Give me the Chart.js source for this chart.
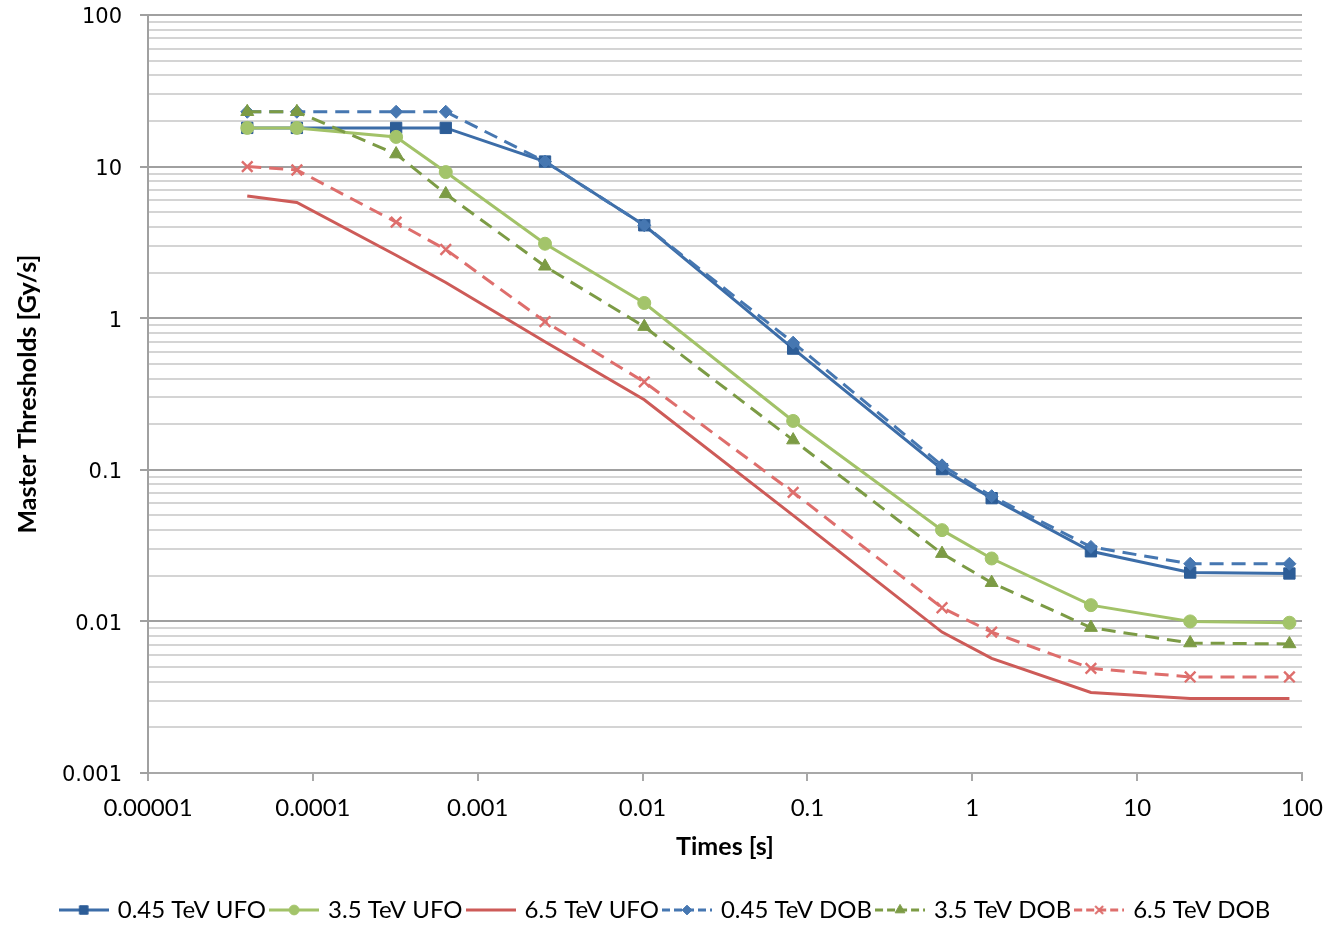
<!DOCTYPE html>
<html>
<head>
<meta charset="utf-8">
<script src="https://cdn.jsdelivr.net/npm/chart.js@4"></script>
<style>
  html, body { margin: 0; padding: 0; background: #ffffff; }
  #wrap { width: 1332px; height: 925px; }
</style>
</head>
<body>
<div id="wrap"><canvas id="thresholds" width="1332" height="925"></canvas></div>
<script>
// running sum integration times [s]
var times = [0.00004, 0.00008, 0.00032, 0.00064, 0.00256, 0.01024, 0.08192, 0.65536, 1.31072, 5.24288, 20.97152, 83.88608];

// master thresholds [Gy/s]
var ufo045 = [18, 18, 18, 18, 10.8, 4.1, 0.63, 0.101, 0.065, 0.029, 0.021, 0.0207];
var ufo35 = [18, 18, 15.7, 9.2, 3.1, 1.26, 0.21, 0.040, 0.026, 0.0128, 0.0100, 0.0098];
var ufo65 = [6.4, 5.8, 2.6, 1.72, 0.70, 0.29, 0.050, 0.0085, 0.0057, 0.0034, 0.0031, 0.0031];
var dob045 = [23, 23, 23, 23, 10.8, 4.1, 0.69, 0.107, 0.067, 0.031, 0.024, 0.024];
var dob35 = [23, 23, 12.1, 6.6, 2.2, 0.88, 0.157, 0.028, 0.018, 0.0091, 0.0072, 0.0071];
var dob65 = [10.0, 9.5, 4.3, 2.84, 0.95, 0.38, 0.071, 0.0123, 0.0085, 0.0049, 0.0043, 0.0043];

var seriesNames = ['0.45 TeV UFO', '3.5 TeV UFO', '6.5 TeV UFO', '0.45 TeV DOB', '3.5 TeV DOB', '6.5 TeV DOB'];

var xTickLabels = ['0.00001', '0.0001', '0.001', '0.01', '0.1', '1', '10', '100'];
var yTickLabels = ['0.001', '0.01', '0.1', '1', '10', '100'];

var xTicks = xTickLabels.map(Number);
var yTicks = yTickLabels.map(Number);

function points(ys) {
    return ys.map(function (y, i) { return { x: times[i], y: y }; });
}

var styles = [
    { line: '#3C6DA8', mark: '#2D5D97', pointStyle: 'rect', radius: 8, dash: [] },
    { line: '#A2C268', mark: '#A3C46A', pointStyle: 'circle', radius: 6.5, dash: [] },
    { line: '#CD5B58', mark: '#CD5B58', pointStyle: false, radius: 0, dash: [] },
    { line: '#4677B1', mark: '#4677B1', pointStyle: 'rectRot', radius: 6.5, dash: [14, 8] },
    { line: '#7C9B45', mark: '#7C9B45', pointStyle: 'triangle', radius: 7.5, dash: [14, 8] },
    { line: '#DE6E6C', mark: '#DE6E6C', pointStyle: 'crossRot', radius: 7.5, dash: [14, 8] }
];

var allSeries = [ufo045, ufo35, ufo65, dob045, dob35, dob65];

var datasets = allSeries.map(function (ys, i) {
    var s = styles[i];
    return {
        label: seriesNames[i],
        data: points(ys),
        borderColor: s.line,
        backgroundColor: s.mark,
        borderWidth: 3,
        borderDash: s.dash,
        tension: 0,
        pointStyle: s.pointStyle,
        pointRadius: s.radius,
        pointBackgroundColor: s.mark,
        pointBorderColor: s.mark,
        pointBorderWidth: s.pointStyle === 'crossRot' ? 2.4 : 1,
        order: 6 - i
    };
});

// little line + marker icon for each legend entry
function legendIcon(s) {
    var c = document.createElement('canvas');
    c.width = 50;
    c.height = 20;
    var g = c.getContext('2d');
    g.strokeStyle = s.line;
    g.lineWidth = 3;
    g.setLineDash(s.dash.length ? [8, 4] : []);
    g.beginPath();
    g.moveTo(0, 10);
    g.lineTo(50, 10);
    g.stroke();
    g.setLineDash([]);
    if (s.pointStyle) {
        g.fillStyle = s.mark;
        g.strokeStyle = s.mark;
        g.lineWidth = s.pointStyle === 'crossRot' ? 2 : 1;
        Chart.helpers.drawPoint(g, { pointStyle: s.pointStyle, radius: s.radius * 0.75, rotation: 0, borderWidth: g.lineWidth }, 25, 10);
    }
    return c;
}

function isDecade(v) {
    var l = Math.log10(v);
    return Math.abs(l - Math.round(l)) < 1e-6;
}

var config = {
    type: 'line',
    data: { datasets: datasets },
    options: {
        responsive: false,
        animation: false,
        layout: { padding: { left: 0, right: 0, top: 15, bottom: -7 } },
        plugins: {
            tooltip: { enabled: false },
            legend: {
                position: 'bottom',
                labels: {
                    usePointStyle: true,
                    pointStyleWidth: 44,
                    padding: 6,
                    color: '#000000',
                    font: { family: 'Lato', size: 24 },
                    generateLabels: function (chart) {
                        return chart.data.datasets.map(function (ds, i) {
                            return {
                                text: ds.label,
                                pointStyle: legendIcon(styles[i]),
                                fillStyle: styles[i].mark,
                                strokeStyle: styles[i].line,
                                lineWidth: 0,
                                hidden: false,
                                datasetIndex: i,
                                fontColor: '#000000'
                            };
                        });
                    }
                }
            }
        },
        scales: {
            x: {
                type: 'logarithmic',
                min: 0.00001,
                max: 100,
                afterFit: function (scale) {
                    // keep the plot clear of the right edge, legend stays centred on the page
                    scale.height = 119;
                    scale.paddingLeft = 0;
                    scale.paddingRight = 30;
                },
                afterBuildTicks: function (scale) {
                    scale.ticks = xTicks.map(function (v) { return { value: v, major: true }; });
                },
                grid: {
                    drawOnChartArea: false,
                    drawTicks: true,
                    tickLength: 8,
                    color: '#a8a8a8',
                    lineWidth: 2
                },
                border: { display: true, color: '#a8a8a8', width: 2 },
                ticks: {
                    autoSkip: false,
                    maxRotation: 0,
                    padding: 13,
                    color: '#000000',
                    font: { family: 'Lato', size: 24 },
                    callback: function (value, index) { return xTickLabels[index]; }
                },
                title: {
                    display: true,
                    text: 'Times [s]',
                    color: '#000000',
                    font: { family: 'Lato', size: 25, weight: 'bold' },
                    padding: { top: 4, bottom: 30 }
                }
            },
            y: {
                type: 'logarithmic',
                min: 0.001,
                max: 100,
                afterFit: function (scale) {
                    scale.width = 148;
                    scale.paddingTop = 0;
                    scale.paddingBottom = 0;
                },
                afterBuildTicks: function (scale) {
                    var ticks = [];
                    for (var d = 0; d < yTicks.length; d++) {
                        ticks.push({ value: yTicks[d], major: true });
                        if (d < yTicks.length - 1) {
                            for (var m = 2; m <= 9; m++) {
                                ticks.push({ value: yTicks[d] * m, major: false });
                            }
                        }
                    }
                    scale.ticks = ticks;
                },
                grid: {
                    drawTicks: true,
                    tickLength: 8,
                    lineWidth: 2,
                    color: function (ctx) {
                        return ctx.tick && isDecade(ctx.tick.value) ? '#a0a0a0' : '#d4d4d4';
                    },
                    tickColor: function (ctx) {
                        return ctx.tick && isDecade(ctx.tick.value) ? '#a0a0a0' : 'rgba(0,0,0,0)';
                    }
                },
                border: { display: true, color: '#a0a0a0', width: 2 },
                ticks: {
                    autoSkip: false,
                    padding: 18,
                    labelOffset: 3,
                    color: '#000000',
                    font: { family: 'DejaVu Sans', size: 21 },
                    callback: function (value) {
                        if (!isDecade(value)) return '';
                        return yTickLabels[Math.round(Math.log10(value)) + 3];
                    }
                },
                title: {
                    display: true,
                    text: 'Master Thresholds [Gy/s]',
                    color: '#000000',
                    font: { family: 'Lato', size: 25, weight: 'bold' },
                    padding: { top: 13, bottom: 0 }
                }
            }
        }
    }
};

var ctx_1 = document.getElementById('thresholds').getContext('2d');
new Chart(ctx_1, config);
</script>
</body>
</html>
